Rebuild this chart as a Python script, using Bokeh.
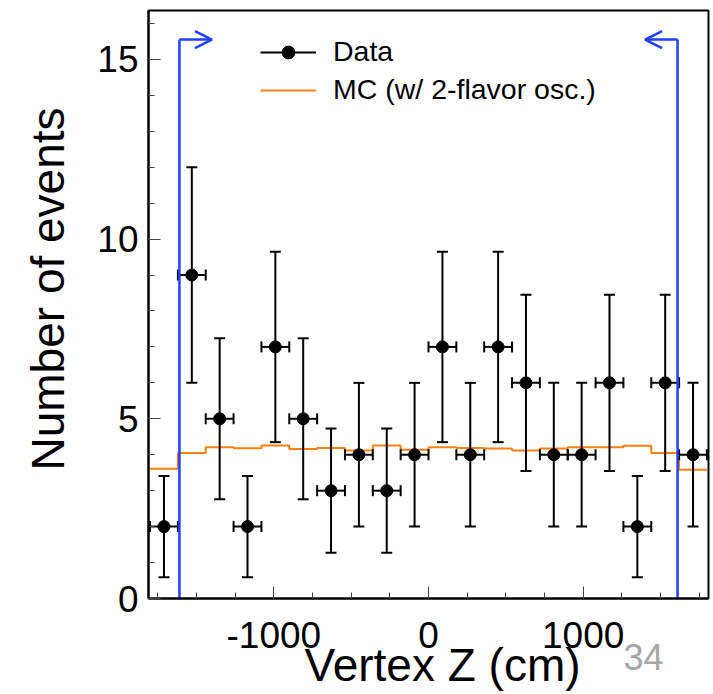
from math import pi
from bokeh.plotting import figure
from bokeh.models import (Range1d, SingleIntervalTicker, Title, Arrow, OpenHead,
                          Legend, LegendItem, ColumnDataSource, PrintfTickFormatter)
from bokeh.embed import file_html
from bokeh.resources import INLINE

# ---------------- data ----------------
bin_edges = [-1800, -1620, -1440, -1260, -1080, -900, -720, -540, -360, -180, 0,
             180, 360, 540, 720, 900, 1080, 1260, 1440, 1620, 1800]
n_data = [2, 9, 5, 2, 7, 5, 3, 4, 3, 4, 7, 4, 7, 6, 4, 4, 6, 2, 6, 4]
err_data = [1.41, 3.0, 2.24, 1.41, 2.65, 2.24, 1.73, 2.0, 1.73, 2.0,
            2.65, 2.0, 2.65, 2.45, 2.0, 2.0, 2.45, 1.41, 2.45, 2.0]
mc_pred = [3.61, 4.05, 4.21, 4.18, 4.26, 4.16, 4.19, 4.12, 4.26, 4.14,
           4.21, 4.19, 4.17, 4.12, 4.17, 4.21, 4.21, 4.25, 4.05, 3.58]
cut_lo, cut_hi = -1610, 1610
cut_top = 15.55
cut_arrow_len = 210

x_title = "Vertex Z (cm)"
y_title = "Number of events"
legend_labels = ["Data", "MC (w/ 2-flavor osc.)"]
page_no = "34"

FONT = "Liberation Sans"
BLUE = "#2040ff"
ORANGE = "#ff7f0e"

# ---------------- figure ----------------
p = figure(width=712, height=694, x_range=Range1d(-1810, 1810), y_range=Range1d(0, 16.36),
           output_backend="svg", toolbar_location=None,
           min_border_left=147, min_border_right=4, min_border_top=10, min_border_bottom=96)
p.xgrid.visible = False
p.ygrid.visible = False
p.outline_line_color = "black"
p.outline_line_width = 2
p.background_fill_color = "white"
p.border_fill_color = "white"

p.xaxis.ticker = SingleIntervalTicker(interval=1000, num_minor_ticks=4)
p.yaxis.ticker = SingleIntervalTicker(interval=5, num_minor_ticks=5)
p.xaxis.formatter = PrintfTickFormatter(format="%d")
p.yaxis.formatter = PrintfTickFormatter(format="%d")
for ax in (p.xaxis[0], p.yaxis[0]):
    ax.axis_line_color = "black"
    ax.axis_line_width = 2
    ax.major_tick_in = 12
    ax.major_tick_out = 0
    ax.minor_tick_in = 6
    ax.minor_tick_out = 0
    ax.major_tick_line_color = "#444444"
    ax.minor_tick_line_color = "#444444"
    ax.major_label_text_font = FONT
    ax.major_label_text_font_size = "37px"
    ax.major_label_text_color = "black"
p.xaxis.major_label_standoff = 23
p.yaxis.major_label_standoff = 10

# ---------------- MC histogram ----------------
mc_step = p.step(x=bin_edges, y=mc_pred + [mc_pred[-1]], mode="after",
                 line_color=ORANGE, line_width=2)

# ---------------- data points ----------------
centers = [(a + b) / 2 for a, b in zip(bin_edges[:-1], bin_edges[1:])]
src = ColumnDataSource(dict(
    x=centers, y=n_data,
    ylo=[n - e for n, e in zip(n_data, err_data)],
    yhi=[n + e for n, e in zip(n_data, err_data)],
    xlo=bin_edges[:-1], xhi=bin_edges[1:]))

hbar = p.segment(x0="xlo", y0="y", x1="xhi", y1="y", source=src, line_color="black", line_width=2)
vbar = p.segment(x0="x", y0="ylo", x1="x", y1="yhi", source=src, line_color="black", line_width=2)
p.scatter(x="x", y="ylo", source=src, marker="dash", size=11, line_color="black", line_width=2)
p.scatter(x="x", y="yhi", source=src, marker="dash", size=11, line_color="black", line_width=2)
hcap = p.scatter(x="xlo", y="y", source=src, marker="dash", angle=pi / 2, size=11,
                 line_color="black", line_width=2)
p.scatter(x="xhi", y="y", source=src, marker="dash", angle=pi / 2, size=11,
          line_color="black", line_width=2)
pts = p.scatter(x="x", y="y", source=src, marker="circle", size=12,
                fill_color="black", line_color="black")

# ---------------- cut lines ----------------
p.segment(x0=[cut_lo, cut_hi], y0=[0, 0], x1=[cut_lo, cut_hi], y1=[cut_top, cut_top],
          line_color=BLUE, line_width=2.5)
p.add_layout(Arrow(end=OpenHead(size=17, line_color=BLUE, line_width=2.5),
                   x_start=cut_lo, y_start=cut_top, x_end=cut_lo + cut_arrow_len, y_end=cut_top,
                   line_color=BLUE, line_width=2.5))
p.add_layout(Arrow(end=OpenHead(size=17, line_color=BLUE, line_width=2.5),
                   x_start=cut_hi, y_start=cut_top, x_end=cut_hi - cut_arrow_len, y_end=cut_top,
                   line_color=BLUE, line_width=2.5))

# ---------------- legend ----------------
legend = Legend(items=[LegendItem(label=legend_labels[0], renderers=[hbar, hcap, pts]),
                       LegendItem(label=legend_labels[1], renderers=[mc_step])],
                location=(112, 492), orientation="vertical",
                glyph_width=56, glyph_height=32, label_standoff=17, spacing=5,
                padding=0, margin=0, border_line_color=None, background_fill_alpha=0,
                label_text_font=FONT, label_text_font_size="28.5px", label_text_color="black")
p.add_layout(legend)

# ---------------- titles ----------------
p.add_layout(Title(text=x_title, align="left", offset=156, vertical_align="top", standoff=-23,
                   text_font=FONT, text_font_size="46px", text_font_style="normal",
                   text_color="black"), "below")
p.add_layout(Title(text=page_no, align="left", offset=475, vertical_align="top", standoff=-76,
                   text_font=FONT, text_font_size="36px", text_font_style="normal",
                   text_color="#a6a6a6"), "below")
p.add_layout(Title(text=y_title, align="left", offset=128, vertical_align="middle", standoff=40,
                   text_font=FONT, text_font_size="46px", text_font_style="normal",
                   text_color="black"), "left")

open("out.html", "w").write(file_html(p, INLINE))
